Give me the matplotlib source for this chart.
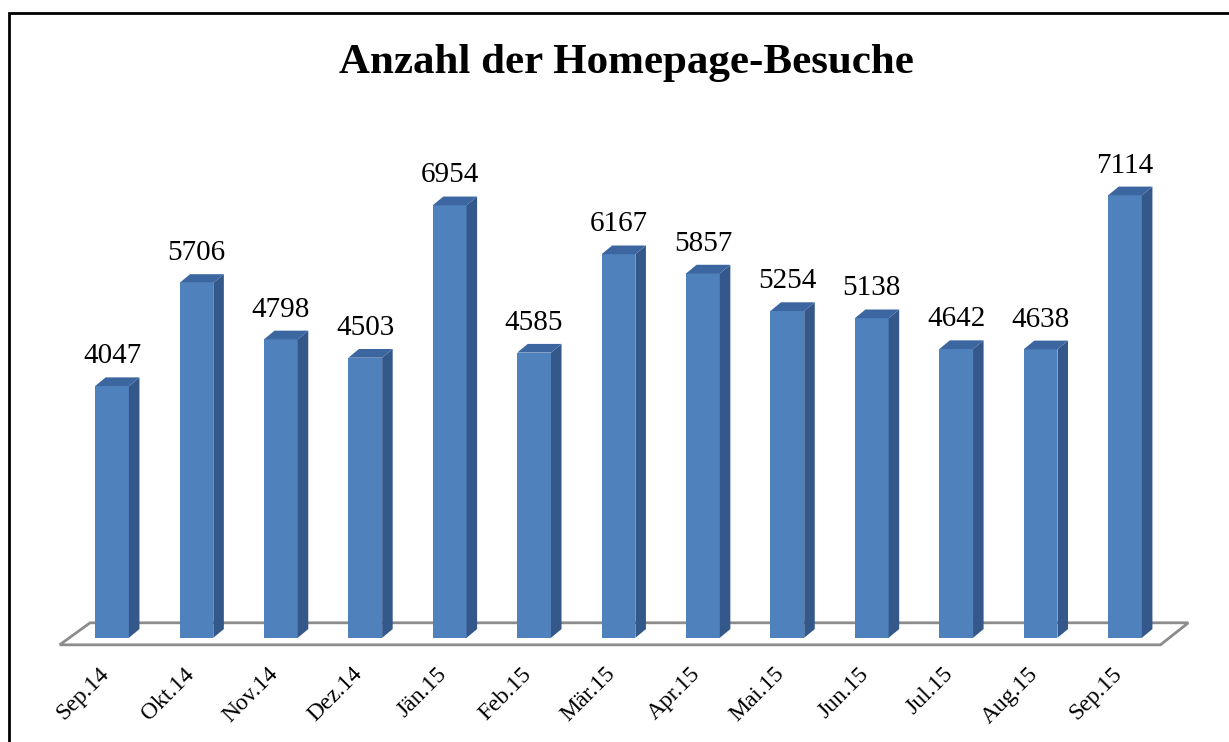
import numpy as np
import matplotlib.pyplot as plt
from matplotlib.patches import Polygon, Rectangle

months = ['Sep.14', 'Okt.14', 'Nov.14', 'Dez.14', 'Jän.15', 'Feb.15', 'Mär.15',
          'Apr.15', 'Mai.15', 'Jun.15', 'Jul.15', 'Aug.15', 'Sep.15']
visits = [4047, 5706, 4798, 4503, 6954, 4585, 6167, 5857, 5254, 5138, 4642, 4638, 7114]

front_col = '#4f81bd'
side_col = '#35588a'
top_col = '#3c66a0'

plt.rcParams['font.family'] = ['Liberation Serif', 'DejaVu Serif']

fig = plt.figure(figsize=(12.29, 7.42), dpi=100)
# axes placed so that bar 0 sits at ~112px and y=0 at ~638px from top
ax = fig.add_axes([27.6 / 1229, 42 / 742, 1181.8 / 1229, 622 / 742])
ax.set_xlim(-1, 13)
ax.set_ylim(-1000, 9000)
ax.axis('off')

x = np.arange(len(visits))
w = 0.40
dx = 0.125   # depth offset in x units
dy = 140     # depth offset in y units

# floor
floor = Polygon([(-0.62, -113), (-0.26, 241), (12.75, 241), (12.42, -113)],
                closed=True, facecolor='white', edgecolor='#8c8c8c', lw=2, zorder=1)
ax.add_patch(floor)

ax.bar(x, visits, width=w, color=front_col, zorder=3)
for xi, v in zip(x, visits):
    l, r = xi - w / 2, xi + w / 2
    ax.add_patch(Polygon([(r, 0), (r + dx, dy), (r + dx, v + dy), (r, v)],
                         closed=True, facecolor=side_col, edgecolor='none', zorder=3))
    ax.add_patch(Polygon([(l, v), (l + dx, v + dy), (r + dx, v + dy), (r, v)],
                         closed=True, facecolor=top_col, edgecolor='none', zorder=3))
    ax.text(xi, v + dy + 130, str(v), ha='center', va='bottom', fontsize=21)

for xi, m in zip(x, months):
    ax.text(xi - 0.07, -530, m, ha='right', va='center', rotation=45,
            rotation_mode='anchor', fontsize=17)

fig.text(626 / 1229, 1 - 73 / 742, 'Anzahl der Homepage-Besuche', ha='center',
         va='baseline', fontsize=31, fontweight='bold')

fig.patches.append(Rectangle((9 / 1229, -0.1), 1.2, 1 - 13 / 742 + 0.1,
                             transform=fig.transFigure, fill=False,
                             edgecolor='black', lw=2))

fig.savefig('out.png', dpi=100)
